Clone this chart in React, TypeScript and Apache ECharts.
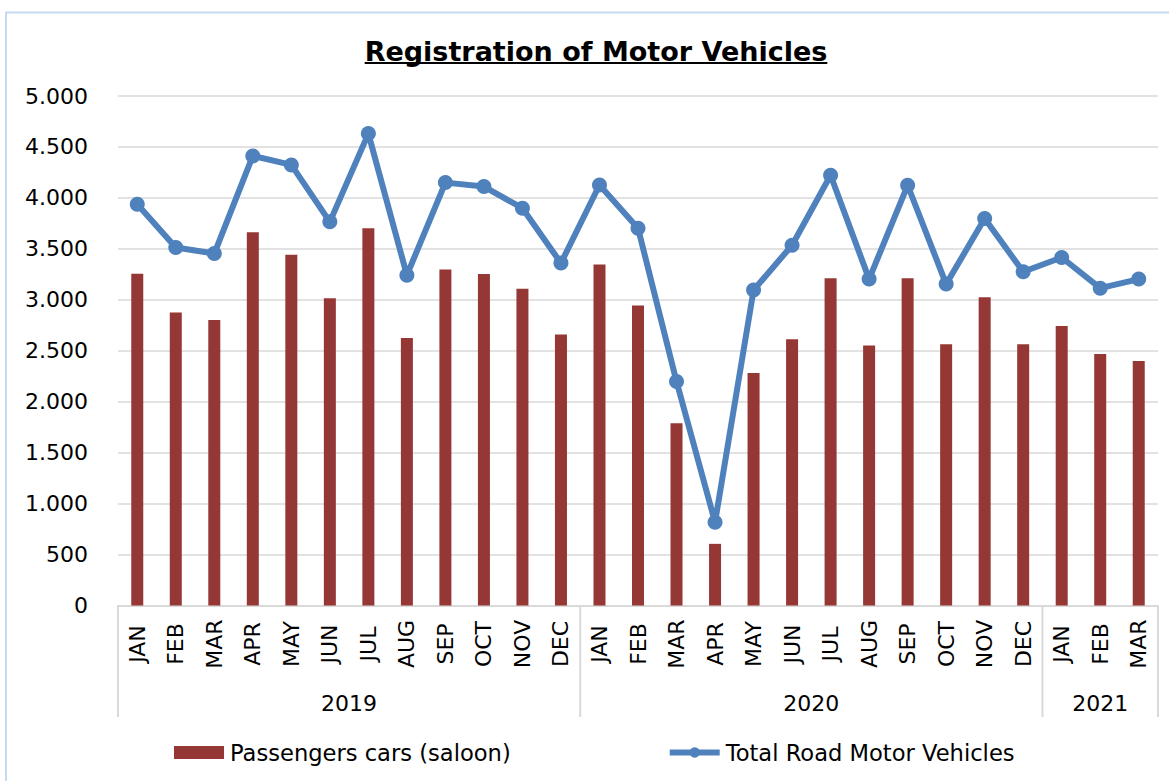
import React, { useEffect, useRef } from 'react';
import * as echarts from 'echarts';

const months = ['JAN', 'FEB', 'MAR', 'APR', 'MAY', 'JUN', 'JUL', 'AUG', 'SEP', 'OCT', 'NOV', 'DEC'];
const years = ['2019', '2020', '2021'];
const monthsPerYear = [12, 12, 3];

const carsSaloon = [
  3255, 2876, 2801, 3663, 3441, 3016, 3703, 2624, 3297, 3252, 3108, 2660,
  3346, 2944, 1788, 605, 2281, 2614, 3212, 2552, 3212, 2565, 3026, 2565,
  2742, 2467, 2399,
];
const totalVehicles = [
  3938, 3513, 3454, 4412, 4324, 3765, 4631, 3242, 4150, 4111, 3899, 3360,
  4127, 3703, 2199, 817, 3095, 3536, 4222, 3203, 4124, 3154, 3797, 3275,
  3415, 3114, 3203,
];

const seriesNames = ['Passengers cars (saloon)', 'Total Road Motor Vehicles'];
const titleText = 'Registration of Motor Vehicles';

const FONT = '"DejaVu Sans", Verdana, sans-serif';
const BAR_COLOR = '#953735';
const LINE_COLOR = '#4F81BD';
const GRID_COLOR = '#D9D9D9';

function fmt(v: number): string {
  if (v >= 1000) {
    const th = Math.floor(v / 1000);
    const rest = String(v % 1000).padStart(3, '0');
    return th + '.' + rest;
  }
  return String(v);
}

export default function App() {
  const ref = useRef<HTMLDivElement>(null);
  useEffect(() => {
    const chart = echarts.init(ref.current!, null, { renderer: 'svg' });
    const categories: string[] = [];
    years.forEach((y, i) => {
      for (let m = 0; m < monthsPerYear[i]; m++) categories.push(y + '-' + months[m]);
    });

    chart.setOption({
      animation: false,
      backgroundColor: '#ffffff',
      textStyle: { fontFamily: FONT },
      grid: { left: 118, right: 11, top: 96, bottom: 175.5, containLabel: false },
      legend: {
        data: [
          { name: seriesNames[0], icon: 'rect' },
          { name: seriesNames[1], lineStyle: { width: 6, color: LINE_COLOR } },
        ],
        left: 174,
        top: 741,
        padding: 0,
        itemWidth: 50,
        itemHeight: 13,
        itemGap: 156,
        textStyle: { fontSize: 22.6, color: '#000', fontFamily: FONT, padding: [0, 0, 0, 1] },
      },
      xAxis: {
        type: 'category',
        data: categories,
        boundaryGap: true,
        axisLine: { show: true, lineStyle: { color: GRID_COLOR, width: 2 } },
        axisTick: { show: false },
        axisLabel: {
          interval: 0,
          rotate: 90,
          align: 'center',
          verticalAlign: 'middle',
          margin: 38.5,
          fontSize: 22,
          color: '#000',
          fontFamily: FONT,
          formatter: (v: string) => v.split('-')[1],
        },
      },
      yAxis: {
        type: 'value',
        min: 0,
        max: 5000,
        interval: 500,
        axisLine: { show: false },
        axisTick: { show: false },
        splitLine: { show: true, lineStyle: { color: GRID_COLOR, width: 1.5 } },
        axisLabel: {
          fontSize: 22,
          color: '#000',
          fontFamily: FONT,
          margin: 30,
          formatter: (v: number) => fmt(v),
        },
      },
      series: [
        {
          name: seriesNames[0],
          type: 'bar',
          data: carsSaloon,
          barWidth: 12,
          itemStyle: { color: BAR_COLOR },
        },
        {
          name: seriesNames[1],
          type: 'line',
          data: totalVehicles,
          symbol: 'circle',
          symbolSize: 15,
          lineStyle: { color: LINE_COLOR, width: 6 },
          itemStyle: { color: LINE_COLOR },
          z: 5,
        },
      ],
    });

    const cx0 = chart.convertToPixel({ xAxisIndex: 0 }, categories[0]) as number;
    const cx1 = chart.convertToPixel({ xAxisIndex: 0 }, categories[1]) as number;
    const band = cx1 - cx0;
    const left = cx0 - band / 2;
    const axisY = chart.convertToPixel({ yAxisIndex: 0 }, 0) as number;

    const canvas = document.createElement('canvas');
    const ctx = canvas.getContext('2d')!;
    ctx.font = 'bold 27px "DejaVu Sans"';
    const titleW = ctx.measureText(titleText).width;
    const titleCx = 596;

    const graphics: any[] = [
      {
        type: 'rect',
        shape: { x: 6, y: 12.5, width: 1300, height: 900 },
        style: { fill: 'none', stroke: '#C6D9F1', lineWidth: 2 },
        silent: true,
      },
      {
        type: 'text',
        x: titleCx,
        y: 51,
        style: {
          text: titleText,
          font: 'bold 27px "DejaVu Sans"',
          fill: '#000',
          textAlign: 'center',
          textVerticalAlign: 'middle',
        },
      },
      {
        type: 'line',
        shape: { x1: titleCx - titleW / 2, y1: 63, x2: titleCx + titleW / 2, y2: 63 },
        style: { stroke: '#000', lineWidth: 2 },
      },
    ];

    let start = 0;
    const bounds = [0];
    monthsPerYear.forEach((n, i) => {
      const end = start + n;
      bounds.push(end);
      graphics.push({
        type: 'text',
        x: left + ((start + end) / 2) * band,
        y: 703,
        style: {
          text: years[i],
          font: '22px "DejaVu Sans"',
          fill: '#000',
          textAlign: 'center',
          textVerticalAlign: 'middle',
        },
      });
      start = end;
    });
    bounds.forEach((b) => {
      const x = left + b * band;
      graphics.push({
        type: 'line',
        shape: { x1: x, y1: axisY, x2: x, y2: 717 },
        style: { stroke: GRID_COLOR, lineWidth: 2 },
      });
    });

    chart.setOption({ graphic: graphics });

    return () => chart.dispose();
  }, []);

  return (
    <div
      ref={ref}
      style={{ position: 'absolute', left: 0, top: 0, width: 1169, height: 781, background: '#fff' }}
    />
  );
}
